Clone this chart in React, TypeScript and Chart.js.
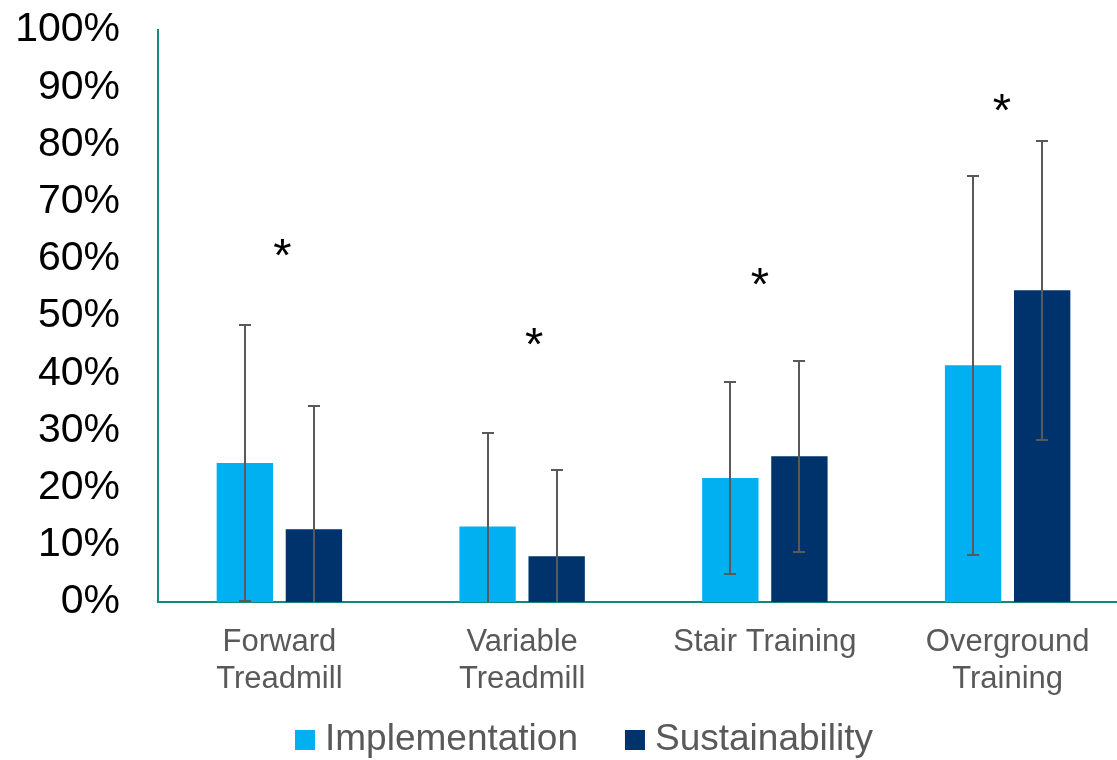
import React, { useEffect, useRef } from "react";
import { Chart, registerables } from "chart.js";

Chart.register(...registerables);

// ---- data ----
const categories: (string | string[])[] = [
  ["Forward", "Treadmill"],
  ["Variable", "Treadmill"],
  "Stair Training",
  ["Overground", "Training"],
];
const seriesNames = ["Implementation", "Sustainability"];
const implementation = [24.3, 13.2, 21.7, 41.4];
const sustainability = [12.7, 8.0, 25.5, 54.5];
// standard deviations drawn as error bars
const implementationSD = [24.1, 16.3, 16.8, 33.1];
const sustainabilitySD = [21.6, 15.1, 16.7, 26.1];
// significance markers (*) per category: height in %, horizontal nudge in category units
const significanceLevels = [61.8, 46.3, 56.8, 87.2];
const significanceShift = [0.012, 0.05, -0.02, -0.024];
const yTickValues = [0, 10, 20, 30, 40, 50, 60, 70, 80, 90, 100];

// ---- styles ----
const FONT = '"Liberation Sans", Arial, Helvetica, sans-serif';
const COLORS = ["#00B0F0", "#00326B"];
const AXIS_COLOR = "#12897B";
const ERR_COLOR = "#595959";
const LABEL_GRAY = "#595959";
const CANVAS_W = 1129;
const CANVAS_H = 760;

const errorBarsPlugin = {
  id: "errorBars",
  afterDatasetsDraw(chart: any) {
    const { ctx } = chart;
    const y = chart.scales.y;
    const sds = [implementationSD, sustainabilitySD];
    ctx.save();
    ctx.strokeStyle = ERR_COLOR;
    ctx.lineWidth = 2;
    chart.data.datasets.forEach((ds: any, di: number) => {
      const meta = chart.getDatasetMeta(di);
      meta.data.forEach((bar: any, j: number) => {
        const v = ds.data[j];
        const sd = sds[di][j];
        const hiVal = v + sd;
        const loVal = v - sd;
        const clipped = loVal <= y.min;
        const top = Math.round(y.getPixelForValue(hiVal));
        const bottom = Math.round(y.getPixelForValue(clipped ? y.min : loVal));
        const x = Math.round(bar.x);
        const cap = 6;
        ctx.beginPath();
        ctx.moveTo(x, top);
        ctx.lineTo(x, bottom);
        ctx.moveTo(x - cap, top);
        ctx.lineTo(x + cap, top);
        if (!clipped) {
          ctx.moveTo(x - cap, bottom);
          ctx.lineTo(x + cap, bottom);
        }
        ctx.stroke();
      });
    });
    ctx.restore();
  },
};

const significancePlugin = {
  id: "significance",
  afterDraw(chart: any) {
    const { ctx } = chart;
    const xs = chart.scales.x;
    const ys = chart.scales.y;
    const size = 47;
    ctx.save();
    ctx.fillStyle = "#000000";
    ctx.font = `${size}px ${FONT}`;
    ctx.textAlign = "center";
    ctx.textBaseline = "alphabetic";
    significanceLevels.forEach((lvl, i) => {
      const x = xs.getPixelForValue(i + significanceShift[i]);
      const yc = ys.getPixelForValue(lvl);
      ctx.fillText("*", x, yc + size * 0.485);
    });
    ctx.restore();
  },
};

const bottomLegendPlugin = {
  id: "bottomLegend",
  afterDraw(chart: any) {
    const { ctx } = chart;
    const size = 37;
    const box = 20;
    const gap = 10;
    const spacing = 47;
    const startX = 295;
    const cy = 740;
    ctx.save();
    ctx.font = `${size}px ${FONT}`;
    ctx.textBaseline = "middle";
    ctx.textAlign = "left";
    let x = startX;
    chart.data.datasets.forEach((ds: any) => {
      ctx.fillStyle = ds.backgroundColor;
      ctx.fillRect(x, cy - box / 2, box, box);
      x += box + gap;
      ctx.fillStyle = LABEL_GRAY;
      ctx.fillText(ds.label, x, cy);
      x += ctx.measureText(ds.label).width + spacing;
    });
    ctx.restore();
  },
};

export default function App() {
  const canvasRef = useRef<HTMLCanvasElement | null>(null);

  useEffect(() => {
    if (!canvasRef.current) return;
    const chart = new Chart(canvasRef.current, {
      type: "bar",
      data: {
        labels: categories,
        datasets: [
          {
            label: seriesNames[0],
            data: implementation,
            backgroundColor: COLORS[0],
            borderWidth: 0,
            categoryPercentage: 0.569,
            barPercentage: 0.816,
          },
          {
            label: seriesNames[1],
            data: sustainability,
            backgroundColor: COLORS[1],
            borderWidth: 0,
            categoryPercentage: 0.569,
            barPercentage: 0.816,
          },
        ],
      },
      options: {
        responsive: false,
        animation: false,
        devicePixelRatio: 1,
        layout: { padding: { top: 0, right: 0, bottom: 0, left: 0 } },
        plugins: {
          legend: { display: false },
          tooltip: { enabled: false },
          title: { display: false },
        },
        scales: {
          x: {
            grid: { display: false, drawTicks: false },
            border: { display: true, color: AXIS_COLOR, width: 2 },
            ticks: {
              color: LABEL_GRAY,
              font: { family: FONT, size: 31, lineHeight: 1.2 },
              padding: 22,
              maxRotation: 0,
              autoSkip: false,
            },
            afterFit: (scale: any) => {
              scale.height = 158;
            },
          },
          y: {
            min: 0,
            max: 100,
            grid: { display: false, drawTicks: false },
            border: { display: true, color: AXIS_COLOR, width: 2 },
            afterBuildTicks: (scale: any) => {
              scale.ticks = yTickValues.map((v) => ({ value: v }));
            },
            ticks: {
              color: "#000000",
              font: { family: FONT, size: 41 },
              padding: 38,
              callback: (v: any) => `${v}%`,
            },
            afterFit: (scale: any) => {
              scale.width = 158;
              scale.paddingTop = 30;
              scale.paddingBottom = 0;
            },
          },
        },
      },
      plugins: [errorBarsPlugin, significancePlugin, bottomLegendPlugin],
    });
    return () => chart.destroy();
  }, []);

  return (
    <div
      style={{
        position: "fixed",
        left: 0,
        top: 0,
        width: 1117,
        height: 760,
        overflow: "hidden",
        background: "#ffffff",
      }}
    >
      <canvas
        ref={canvasRef}
        width={CANVAS_W}
        height={CANVAS_H}
        style={{ width: CANVAS_W, height: CANVAS_H, display: "block" }}
      />
    </div>
  );
}
